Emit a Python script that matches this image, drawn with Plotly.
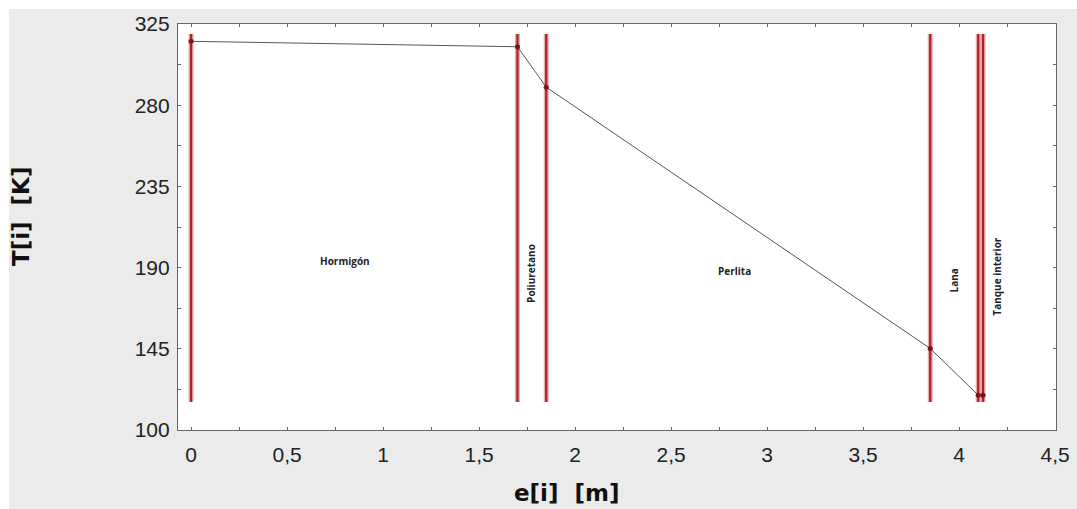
import plotly.graph_objects as go

# data
e_vals = [0.0, 1.70, 1.85, 3.85, 4.10, 4.125]
T_vals = [315.4, 312.4, 290.0, 145.2, 119.3, 119.3]
layer_names = ["Hormigón", "Poliuretano", "Perlita", "Lana", "Tanque interior"]
layer_label_x = [0.80, 1.77, 2.83, 3.975, 4.196]
layer_label_y = [193.6, 187.0, 188.1, 183.0, 184.8]
layer_label_angle = [0, -90, 0, -90, -90]
line_bottom = 115.5
line_top = 319.5
x_ticks = [0, 0.5, 1, 1.5, 2, 2.5, 3, 3.5, 4, 4.5]
x_ticktext = ["0", "0,5", "1", "1,5", "2", "2,5", "3", "3,5", "4", "4,5"]
y_ticks = [100, 145, 190, 235, 280, 325]

W, H = 1077, 509
ml, mt = 178, 24
mr = W - 1056
mb = H - 430
pw, ph = W - ml - mr, H - mt - mb

def px2paper_x(px):
    return (px - ml) / pw

def px2paper_y(py):
    return 1 - (py - mt) / ph

fig = go.Figure()

# red vertical boundary lines
vx, vy = [], []
for xv in e_vals:
    vx += [xv, xv, None]
    vy += [line_bottom, line_top, None]
fig.add_trace(go.Scatter(x=vx, y=vy, mode="lines",
                         line=dict(color="rgba(220,110,110,0.6)", width=5),
                         hoverinfo="skip", showlegend=False))
fig.add_trace(go.Scatter(x=vx, y=vy, mode="lines",
                         line=dict(color="#a8232a", width=2.2),
                         hoverinfo="skip", showlegend=False))

# temperature profile
fig.add_trace(go.Scatter(x=e_vals, y=T_vals, mode="lines+markers",
                         line=dict(color="#555555", width=1),
                         marker=dict(color="#7a1518", size=5),
                         showlegend=False))

for name, lx, ly, ang in zip(layer_names, layer_label_x, layer_label_y, layer_label_angle):
    fig.add_annotation(x=lx, y=ly, text=name, showarrow=False, textangle=ang,
                       font=dict(family="Open Sans", size=10, color="#222222", weight="bold"))

# axis titles
fig.add_annotation(xref="paper", yref="paper", x=px2paper_x(567), y=px2paper_y(493),
                   xanchor="center", yanchor="middle",
                   text="e[i]  [m]", showarrow=False,
                   font=dict(family="DejaVu Sans", size=23, color="#111111", weight="bold"))
fig.add_annotation(xref="paper", yref="paper", x=px2paper_x(21), y=px2paper_y(217),
                   xanchor="center", yanchor="middle",
                   text="T[i]  [K]", showarrow=False, textangle=-90,
                   font=dict(family="DejaVu Sans", size=23, color="#111111", weight="bold"))

# white strips at top and left edges
fig.add_shape(type="rect", xref="paper", yref="paper",
              x0=px2paper_x(-2), x1=px2paper_x(W + 2), y0=px2paper_y(9), y1=px2paper_y(-2),
              fillcolor="white", line=dict(width=0), layer="below")
fig.add_shape(type="rect", xref="paper", yref="paper",
              x0=px2paper_x(-2), x1=px2paper_x(9), y0=px2paper_y(H + 2), y1=px2paper_y(-2),
              fillcolor="white", line=dict(width=0), layer="below")

axis_common = dict(showgrid=False, zeroline=False, showline=True, linecolor="#666666",
                   linewidth=1.2, mirror="allticks", ticks="inside", ticklen=3,
                   tickcolor="#666666", automargin=False,
                   tickfont=dict(family="Arial", size=21, color="#222222"))

fig.update_xaxes(range=[-0.068, 4.505], tickvals=x_ticks, ticktext=x_ticktext,
                 ticklabelstandoff=6,
                 minor=dict(tickvals=[0.25, 0.75, 1.25, 1.75, 2.25, 2.75, 3.25, 3.75, 4.25],
                            ticks="inside", ticklen=3, tickcolor="#666666"),
                 **axis_common)
fig.update_yaxes(range=[100, 325], tickvals=y_ticks, ticklabelstandoff=3,
                 minor=dict(tickvals=[122.5, 167.5, 212.5, 257.5, 302.5],
                            ticks="inside", ticklen=3, tickcolor="#666666"),
                 **axis_common)

fig.update_layout(width=W, height=H, margin=dict(l=ml, r=mr, t=mt, b=mb),
                  paper_bgcolor="#ebebeb", plot_bgcolor="white")

fig.write_html("out.html", config={"displayModeBar": False},
               post_script="document.body.style.margin='0';document.body.style.overflow='hidden';")
